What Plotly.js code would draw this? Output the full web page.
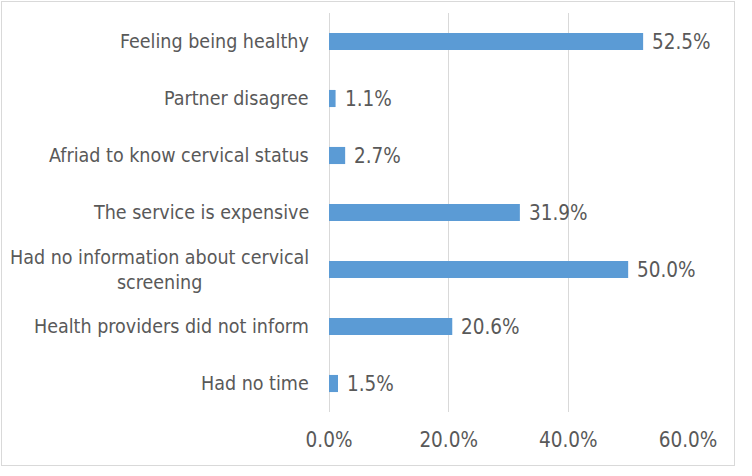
<!DOCTYPE html>
<html>
<head>
<meta charset="utf-8">
<script src="https://cdn.plot.ly/plotly-3.0.1.min.js"></script>
<style>
  html, body { margin: 0; padding: 0; background: #fff; }
  #wrap { position: relative; width: 752px; height: 476px; }
  #chart { width: 752px; height: 476px; }
  #frame { position: absolute; left: 1px; top: 1px; width: 734px; height: 465px; border: 1px solid #D9D9D9; box-sizing: border-box; pointer-events: none; }
</style>
</head>
<body>
<div id="wrap"><div id="chart"></div><div id="frame"></div></div>
<script>
const categories = [
  "Feeling being healthy",
  "Partner disagree",
  "Afriad to know cervical status",
  "The service is expensive",
  "Had no information about cervical<br>screening",
  "Health providers did not inform",
  "Had no time"
];
const values = [52.5, 1.1, 2.7, 31.9, 50.0, 20.6, 1.5];
const tickVals = [0, 20, 40, 60];
const tickLabels = ["0.0%", "20.0%", "40.0%", "60.0%"];

const fontFam = "DejaVu Sans Condensed, DejaVu Sans, sans-serif";
const textColor = "#595959";
const labelSize = 19.5;
const numSize = 20.5;

const trace = {
  type: "bar",
  orientation: "h",
  x: values,
  y: categories,
  marker: { color: "#5B9BD5" },
  hoverinfo: "skip"
};

const annotations = [];
categories.forEach((c, i) => {
  annotations.push({
    xref: "paper", yref: "y", x: 0, y: c, xshift: -18,
    xanchor: "right", yanchor: "middle", align: "center",
    text: c, showarrow: false,
    font: { family: fontFam, size: labelSize, color: textColor }
  });
  annotations.push({
    xref: "x", yref: "y", x: values[i], y: c, xshift: 7,
    xanchor: "left", yanchor: "middle",
    text: values[i].toFixed(1) + "%", showarrow: false,
    font: { family: fontFam, size: numSize, color: textColor }
  });
});

const layout = {
  width: 752, height: 476,
  margin: { l: 329, r: 64, t: 13, b: 64, pad: 0 },
  paper_bgcolor: "#fff", plot_bgcolor: "#fff",
  showlegend: false,
  bargap: 0.7,
  font: { family: fontFam, size: labelSize, color: textColor },
  xaxis: {
    range: [0, 60], tickvals: tickVals, ticktext: tickLabels,
    showgrid: true, gridcolor: "#D9D9D9", gridwidth: 1,
    zeroline: true, zerolinecolor: "#D9D9D9", zerolinewidth: 1,
    showline: false, ticks: "outside", ticklen: 9, tickcolor: "rgba(0,0,0,0)",
    tickfont: { family: fontFam, size: numSize, color: textColor },
    fixedrange: true
  },
  yaxis: {
    type: "category", autorange: "reversed",
    showticklabels: false, showgrid: false, zeroline: false, showline: false, ticks: "",
    fixedrange: true
  },
  annotations: annotations
};

Plotly.newPlot("chart", [trace], layout, { displayModeBar: false, staticPlot: true });
</script>
</body>
</html>
